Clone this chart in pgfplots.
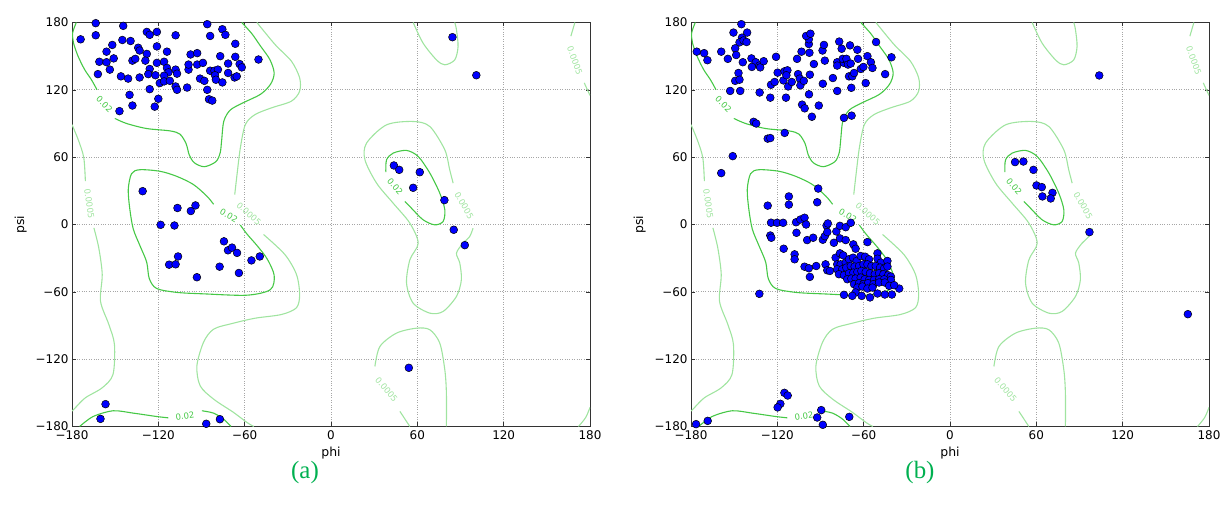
\documentclass[border=0pt]{standalone}
\usepackage{fontspec}
\setmainfont{DejaVu Sans}
\newfontfamily\seriffont{Liberation Serif}
\usepackage{pgfplots}
\pgfplotsset{compat=1.18}
\definecolor{cA}{RGB}{70,200,70}
\definecolor{cB}{RGB}{160,228,160}
\definecolor{ptblue}{RGB}{0,0,255}
\definecolor{labgreen}{RGB}{0,176,80}
\pgfplotsset{
  rama/.style={
    anchor=south west, scale only axis, width=518bp, height=404bp,
    xmin=-180, xmax=180, ymin=-180, ymax=180,
    xtick={-180,-120,-60,0,60,120,180},
    ytick={-180,-120,-60,0,60,120,180},
    xticklabels={−180,−120,−60,0,60,120,180},
    yticklabels={−180,−120,−60,0,60,120,180},
    tick label style={font=\fontsize{12}{13}\selectfont},
    label style={font=\fontsize{12.5}{13}\selectfont},
    xlabel={phi}, ylabel={psi},
    xlabel style={yshift=0bp}, ylabel style={yshift=2bp},
    grid=major, major grid style={dotted, gray!70, line width=0.7pt},
    tick align=inside, major tick length=4bp, tick style={black!80, line width=0.6pt},
    axis line style={black!80, line width=0.8pt},
    xticklabel style={yshift=-1bp},
  },
  ca/.style={cA, line width=1.1pt, smooth, no markers},
  cb/.style={cB, line width=1.1pt, smooth, no markers},
  pts/.style={only marks, mark=*, mark size=3.9bp, mark options={fill=ptblue, draw=black, line width=0.5pt}},
}
\newcommand{\contours}{%
\addplot[ca] coordinates {(-177,180)(-179.5,171)(-179,162)(-175.8,150)(-171.2,138)(-166.5,129)(-162.6,120)};
\addplot[ca] coordinates {(-150.2,94.5)(-142.1,90)(-128.1,85.5)(-111.8,83.4)(-104.9,80.4)(-100.7,72)(-98.5,62)(-95,55)(-88,51.5)(-80,56)(-77,64)(-76,75)(-74.5,92)(-70,102)(-61,108.5)(-49,116)(-42,125)(-39.5,135)(-42.5,147)(-49,159)(-55,170)(-62,180)};
\addplot[ca] coordinates {(-81.6,18)(-86.3,25.3)(-95.6,35.6)(-107.2,42.9)(-118.8,47.4)(-132.8,48.8)(-138.6,45.3)(-140.9,31.2)(-139.8,13.5)(-137.4,-4.1)(-132.8,-18.8)(-128.1,-33.5)(-126.3,-48.2)(-121.2,-57)(-107.2,-60.5)(-88.6,-61.8)(-58.4,-63)(-42.1,-58)(-39.5,-45.3)(-44.4,-30.6)(-51.4,-18.8)(-58.4,-8.5)(-63,-0.5)};
\addplot[ca] coordinates {(-174.7,-180)(-165.3,-171.1)(-151.4,-166)(-137.4,-168.1)(-121.2,-171.1)(-113,-172.3)};
\addplot[ca] coordinates {(-89.7,-166)(-81.6,-168.1)(-74.6,-173.5)(-69.5,-180)};
\addplot[ca] coordinates {(38.1,46.6)(38.6,57.6)(43.2,63.6)(52.5,66)(60.6,60.6)(68.7,45.8)(75.6,27.9)(79.1,13.1)(77.9,2.7)(72.1,-0.3)(64,4.2)(54.8,16)(51.3,20.5)};
\addplot[cb] coordinates {(-51.5,180)(-38.9,160.4)(-27.5,145.5)(-21.8,130.7)(-21.8,118.8)(-27.5,109.9)(-41.2,104)(-52.7,98)(-59.5,89.1)(-63,68.3)(-65.3,44.6)(-66.9,26.7)};
\addplot[cb] coordinates {(-46.9,-8.9)(-32.1,-26.7)(-24,-44.5)(-21.8,-62.4)(-24,-74.2)(-34.4,-80.2)(-52.7,-83.5)(-68,-88)(-81.6,-93.3)(-88.6,-105)(-93.2,-126)(-90.9,-143.8)(-81.6,-155.6)(-67.7,-167.5)(-58.4,-176.4)(-53.7,-180)};
\addplot[cb] coordinates {(57.1,180)(64,161.6)(73.3,146.7)(79.1,142.3)(86,146.7)(88.3,158.6)(87.2,173.5)(86,180)};
\addplot[cb] coordinates {(84.9,36.8)(82.5,48.7)(79.1,66.5)(68.7,87.3)(57.1,91.8)(38.6,88.8)(24.7,72.5)(23.6,57.6)(31.7,36.8)(43.2,19)(54.8,1.2)(60.6,-16.6)(54.8,-31.5)(52.5,-52.3)(57.1,-70.1)(68.7,-79)(77.9,-77.5)(87.2,-64.1)(90.6,-49.3)(89.5,-34.4)(87.2,-25.5)(91.8,-16.6)(96.4,-10.7)(98.7,-3.3)};
\addplot[cb] coordinates {(30.5,-126.5)(34,-108.7)(45.5,-96.8)(59.4,-92.4)(68.7,-93.8)(75.6,-105.7)(79.1,-129.5)(80.2,-150.3)(80.2,-180)};
\addplot[cb] coordinates {(47.9,-166.6)(54.8,-180)};
\addplot[cb] coordinates {(-180,89)(-175.3,74.3)(-171.8,59.4)(-170.7,38.6)};
\addplot[cb] coordinates {(-164.8,-3)(-161.4,-20.8)(-159,-44.5)(-160.2,-68.3)(-154.4,-89.1)(-150.5,-106.9)(-151.5,-133.6)(-159,-145.5)(-170.7,-154.4)(-177.7,-163.3)(-180,-166.3)};
\addplot[cb] coordinates {(169.5,180)(166.7,167.8)};
\addplot[cb] coordinates {(176,126.2)(180,115)};
\addplot[cb] coordinates {(172,-180)(177,-172)(180,-163)};
\node[text=cA, rotate=-45, inner sep=0pt, font=\fontsize{8.5}{9}\selectfont] at (axis cs:-157.5,107) {0.02};
\node[text=cA, rotate=-30, inner sep=0pt, font=\fontsize{8.5}{9}\selectfont] at (axis cs:-71,8) {0.02};
\node[text=cA, rotate=8, inner sep=0pt, font=\fontsize{8.5}{9}\selectfont] at (axis cs:-101.5,-170.5) {0.02};
\node[text=cA, rotate=-50, inner sep=0pt, font=\fontsize{8.5}{9}\selectfont] at (axis cs:44.5,34) {0.02};
\node[text=cB, rotate=-82, inner sep=0pt, font=\fontsize{8.5}{9}\selectfont] at (axis cs:-168,18.5) {0.0005};
\node[text=cB, rotate=-42, inner sep=0pt, font=\fontsize{8.5}{9}\selectfont] at (axis cs:-57,9.5) {0.0005};
\node[text=cB, rotate=-60, inner sep=0pt, font=\fontsize{8.5}{9}\selectfont] at (axis cs:92.5,17) {0.0005};
\node[text=cB, rotate=-50, inner sep=0pt, font=\fontsize{8.5}{9}\selectfont] at (axis cs:38.6,-147) {0.0005};
\node[text=cB, rotate=-70, inner sep=0pt, font=\fontsize{8.5}{9}\selectfont] at (axis cs:169.5,146) {0.0005};
}
\begin{document}
\begin{tikzpicture}[x=1bp,y=1bp]
\useasboundingbox (0,0) rectangle (1220,515);
\begin{axis}[rama, at={(72bp,88.5bp)}]
\contours
\addplot[pts] coordinates {
(-174,165)(-163.5,179.4)(-163.5,168.6)(-144.4,177)(-145,164.4)(-139.3,163.5)(-152,160)(-156,154)(-151,148)(-161,145)(-156,144.6)(-153.7,138)(-162,134)(-146,132)(-141,130)(-133,131)(-140,115.5)(-138,106)(-147,101)(-138,146)(-136,147.6)(-134,157.5)(-133,155)(-128,152)(-129,146)(-128,171.6)(-126,169)(-121,171.6)(-121,158.7)(-114,154)(-121,144)(-126,138.6)(-127,134)(-122,133)(-126,120.6)(-120,112)(-122.5,105)(-116,145)(-114,139.5)(-113,135.6)(-116,132.6)(-119,126)(-116,127.5)(-112,128)(-108,138)(-107,134.4)(-108,123)(-107,120)(-108,168.6)(-100,122)(-99,138)(-99,142.5)(-97.6,151.5)(-93,152.7)(-93,142.5)(-89,144)(-91,130)(-88,128)(-86,120)(-84.8,111.6)(-82.5,110.4)(-84,137)(-81,137)(-78.6,138)(-80.6,133)(-80,129)(-75.5,126.6)(-84,168)(-86,178.5)(-75.5,174)(-73.4,169)(-77,150)(-71.5,143.4)(-71.5,135)(-66.5,161)(-66.5,149.4)(-67,131)(-65.5,132)(-63.5,143)(-62,140)(-50.4,147)
(-130.9,29.7)(-106.7,14.7)(-97.4,12)(-94.2,17)(-118.4,-0.3)(-108.8,-0.9)(-106.3,-28.5)(-112.5,-35.8)(-108,-35.5)(-93.2,-47)(-77.4,-37.6)(-74.4,-15)(-71.6,-23)(-68.8,-20.6)(-65.3,-25.3)(-64,-43.2)(-55.3,-32)(-49.5,-28.5)
(-156.7,-160.1)(-160.2,-173.2)(-86.7,-177.6)(-77.2,-173.5)
(84.4,166.9)(101,133)(43.7,52.6)(47.4,48.7)(61.7,46.6)(57.1,32.7)(78.8,21.7)(85.3,-4.7)(93,-18.4)(54.1,-127.7)
};
\end{axis}
\begin{axis}[rama, at={(691bp,88.5bp)}]
\contours
\addplot[pts] coordinates {
(-176,154)(-170.9,152.7)(-168.6,146.4)(-159,154)(-154.4,147.6)(-150.5,171)(-145,178.5)(-141,171)(-144.6,166.5)(-146.3,162.3)(-143.5,164)(-141.4,162.6)(-149.3,157)(-148.6,151)(-144,144.6)(-147,135)(-149.3,128)(-146.3,129)(-152.8,119)(-145.8,119)(-138,148)(-135,144.6)(-137.7,140.4)(-132.5,141.6)(-131.9,140)(-129.5,145.5)(-132.3,117.6)(-136.5,91.5)(-134.7,90)(-126.7,76.5)(-124.9,77)(-114.9,81.6)(-151,60.9)(-120.9,149.4)(-119.8,135.3)(-124.4,124.5)(-124.9,113)(-121.9,127)(-115.8,128.4)(-115,136.5)(-113,137.4)(-113.7,133)(-112.5,123)(-114,113)(-110,127)(-105.6,134)(-104.4,130)(-106.3,147.6)(-103.2,154)(-104,124)(-101.6,128)(-98,116)(-102.8,106.8)(-101,103.5)(-96,96)(-91.2,106)(-97.7,153)(-98.1,160.8)(-98.1,165)(-100,168)(-97,170)(-94.6,143)(-97.4,133.5)(-88.6,155)(-87.6,160)(-87,146)(-88.4,125.4)(-81.4,130.5)(-78.4,119)(-77,163)(-78.4,144.6)(-78.4,141.6)(-75.3,156.6)(-73.7,144)(-74.6,147.6)(-72,147.6)(-70.9,142.5)(-69.5,159.6)(-69,143.4)(-70.2,132)(-67.9,132)(-68.6,121.8)(-66.7,135)(-64.4,155.7)(-63.9,147.6)(-62,138.6)(-60.2,140.4)(-57.4,150)(-55,144.6)(-53.9,139.5)(-58.6,126)(-51.4,162.6)(-45.1,134)(-40.7,149)(-73.7,95)(-68.4,97)
(-159,45.8)(-126.7,16.8)(-112,25)(-112,17.7)(-91.6,32)(-92.3,19.8)(-124.4,1.6)(-120.2,1.5)(-116,1.5)(-124.9,-9.8)(-124.2,-11.8)(-115.6,-21.6)(-107,2)(-104,4.4)(-101.1,6)(-100,0)(-106.7,-7.4)(-108,-26.6)(-108,-31)(-101.1,-37.6)(-98.1,-39)(-97.4,-46.7)(-93,-37)(-99.3,-13.9)(-95.1,-11.8)(-88.4,-13.6)(-87,-10.4)(-85.8,-1)(-84.9,0.9)(-85.3,-6.8)(-79,-6.2)(-76.5,-1.2)(-72.5,-2.4)(-69,1.5)(-80.7,-16.3)(-76.5,-12.4)(-72.5,-13.9)(-67.2,-17.7)(-57.4,-15.7)(-65.6,-21.6)(-86.5,-35.5)(-85.3,-40.8)(-83.5,-41.4)
(-79.5,-29.6)(-76.5,-25.7)(-74.2,-27.5)(-78.4,-35.5)(-76,-35.5)(-72.5,-34)(-70.2,-31)(-67.4,-29.6)(-64.9,-32.5)(-62.1,-28.1)(-59,-28.7)(-56.3,-31)(-50.4,-25.7)(-50.4,-30.5)(-48.1,-34)(-43.5,-32.5)(-78.4,-39.9)(-74.9,-39.9)(-72.1,-38.4)(-69,-37)(-66.3,-37.5)(-63.2,-37)(-60.2,-35.5)(-57.4,-35.5)(-54.6,-37)(-51.6,-37)(-48.6,-38.4)(-45.8,-39.3)(-43.5,-37.5)(-77.2,-44.3)(-73.7,-45.2)(-70.2,-43.5)(-67.2,-42.9)(-64.4,-42.3)(-61.6,-41.4)(-58.6,-42.3)(-55.6,-43.5)(-52.3,-44.3)(-49.3,-43.5)(-46.3,-44.3)(-43,-45.2)(-41.1,-46.4)(-71.4,-48.8)(-68.6,-48.2)(-65.6,-48.2)(-62.1,-47.3)(-59.3,-48.8)(-56.3,-49.4)(-52.8,-49.4)(-49.3,-48.8)(-45.8,-48.8)(-41.1,-49.4)(-66.7,-53.2)(-63.2,-52.3)(-60.2,-53.2)(-57,-52.3)(-53.2,-53.2)(-49.3,-51.7)(-45.3,-51.7)(-64.4,-56.2)(-60.9,-55.3)(-57.4,-57.1)(-53.9,-56.2)(-42.3,-54.7)(-35.3,-57.1)(-38.8,-54.1)(-65.6,-60.6)(-67.9,-63.6)(-73.7,-62.7)(-61.4,-63.6)(-55.6,-65)(-50.4,-61.5)(-45.3,-62.4)(-40.4,-62.4)(-132.5,-61.8)
(-115.1,-150)(-112.8,-152.4)(-117.9,-159.8)(-119.8,-163)(-89.5,-165.4)(-92.3,-172)(-88.4,-178.5)(-70,-171.4)(-176.5,-177.9)(-168.4,-175)
(103.7,132.8)(45.2,55.6)(51,56.1)(58,48.7)(60.1,34.8)(63.8,33.3)(71.2,28.2)(64.2,25)(70,23.2)(96.9,-6.8)(165.3,-79.9)
};
\end{axis}
\node[text=labgreen, font=\seriffont\fontsize{25}{26}\selectfont] at (305,42) {(a)};
\node[text=labgreen, font=\seriffont\fontsize{25}{26}\selectfont] at (920,42) {(b)};
\end{tikzpicture}
\end{document}
